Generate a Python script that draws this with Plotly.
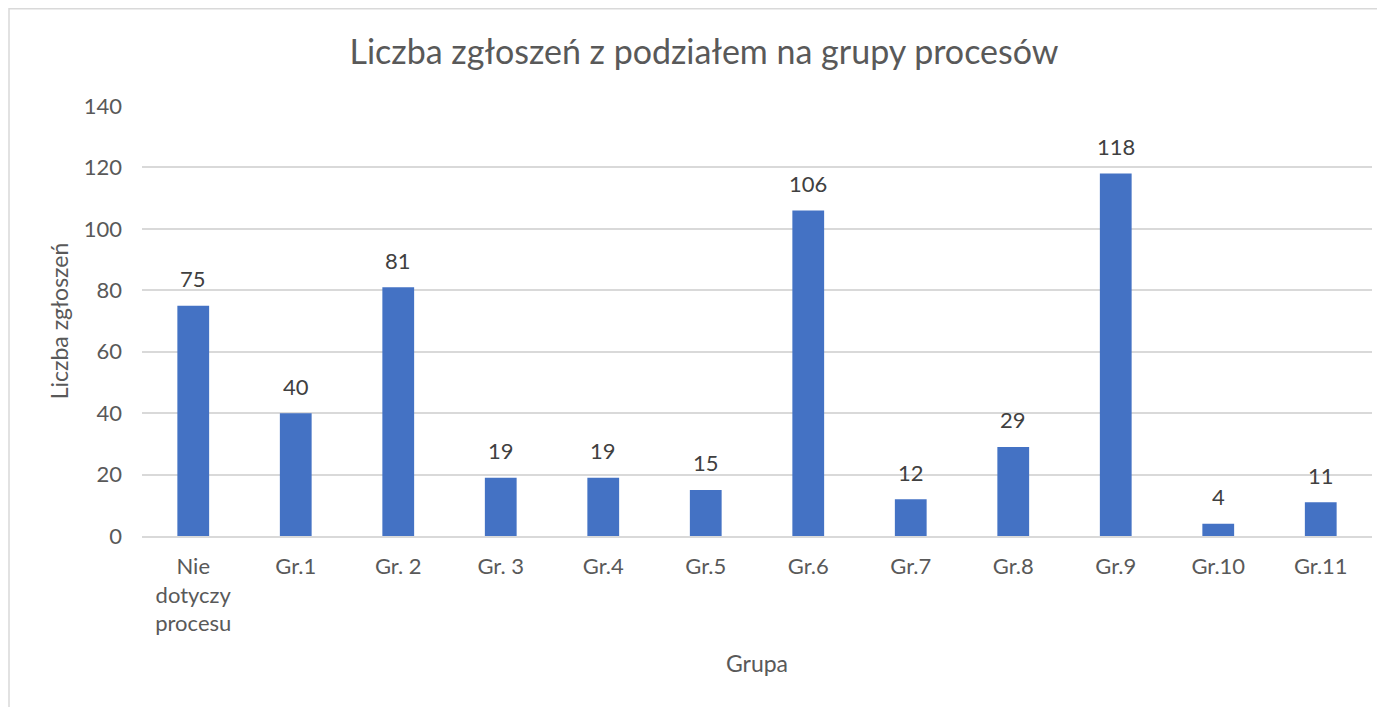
import plotly.graph_objects as go

categories = ["Nie<br>dotyczy<br>procesu", "Gr.1", "Gr. 2", "Gr. 3", "Gr.4", "Gr.5",
              "Gr.6", "Gr.7", "Gr.8", "Gr.9", "Gr.10", "Gr.11"]
values = [75, 40, 81, 19, 19, 15, 106, 12, 29, 118, 4, 11]

title_text = "Liczba zgłoszeń z podziałem na grupy procesów"
x_title = "Grupa"
y_title = "Liczba zgłoszeń"
y_ticks = [0, 20, 40, 60, 80, 100, 120, 140]

FONT = "Lato"
# page is offset by the 8px body margin
OFF = 8
W, H = 1385 - OFF, 707 - OFF
L, R, T, B = 142 - OFF, 13, 106 - OFF, 171
pw, ph = W - L - R, H - T - B

fig = go.Figure(go.Bar(
    x=categories, y=values,
    marker=dict(color="#4472C4", line=dict(width=0)),
    width=0.31,
    cliponaxis=False,
    hoverinfo="x+y",
))

for c, v in zip(categories, values):
    fig.add_annotation(x=c, y=v, text=str(v), showarrow=False, yanchor="middle",
                       yshift=27, font=dict(family=FONT, size=22, color="#404040"))

fig.update_layout(
    width=W, height=H,
    margin=dict(l=L, r=R, t=T, b=B),
    paper_bgcolor="white", plot_bgcolor="white",
    showlegend=False,
    title=dict(text=title_text, xref="container", x=(704 - OFF) / W, xanchor="center",
               y=1 - (52 - OFF) / H, yanchor="middle",
               font=dict(family=FONT, size=34, color="#595959")),
    xaxis=dict(
        showgrid=False, showline=True, linecolor="#D9D9D9", linewidth=1.5,
        ticks="", ticklabelstandoff=10,
        tickfont=dict(family=FONT, size=22, color="#595959"),
        title=dict(text=x_title, font=dict(family=FONT, size=23, color="#595959"), standoff=21),
    ),
    yaxis=dict(
        range=[0, 140], tickvals=y_ticks, showgrid=True, gridcolor="#D9D9D9", gridwidth=1.5,
        zeroline=False, showline=False, ticks="", ticklabelstandoff=19,
        tickfont=dict(family=FONT, size=22, color="#595959"),
        title=dict(text=y_title, font=dict(family=FONT, size=23, color="#595959"), standoff=8),
    ),
)

# outer chart border (light gray frame)
fig.add_shape(type="rect", xref="paper", yref="paper",
              x0=(9 - OFF - L) / pw, x1=(W + 5 - L) / pw,
              y0=(T + ph - (H + 5)) / ph, y1=(T + ph - 0.75) / ph,
              line=dict(color="#D9D9D9", width=1.5), fillcolor="rgba(0,0,0,0)", layer="below")

fig.write_html("out.html")
